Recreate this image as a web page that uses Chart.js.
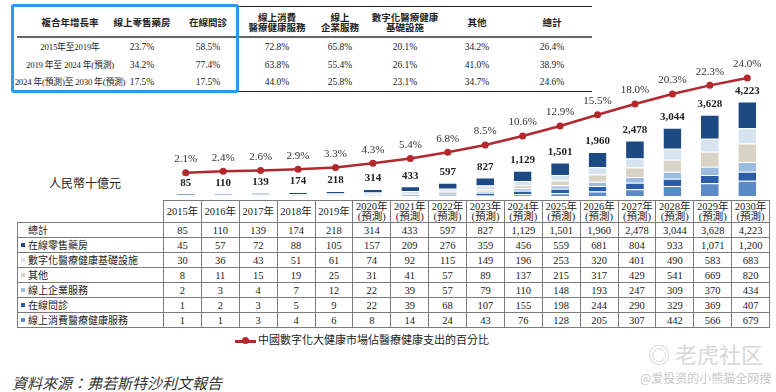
<!DOCTYPE html>
<html>
<head>
<meta charset="utf-8">
<script src="https://cdn.jsdelivr.net/npm/chart.js@4.4.1/dist/chart.umd.min.js"></script>
<style>
  body { margin:0; width:776px; height:392px; background:#fff; position:relative; overflow:hidden;
         font-family:"Liberation Serif","Noto Sans CJK TC",serif; color:#222; }
  .cell { position:absolute; transform:translate(-50%,-50%); white-space:nowrap; font-size:9.5px; text-align:center; line-height:10px; }
  .cell.head { font-weight:bold; }
  .cell.period { font-size:8.8px; letter-spacing:-0.2px; }
  .hline { position:absolute; height:0; }
  #blueBox { position:absolute; left:11px; top:4px; width:222px; height:83px; border:3px solid #2a9af0; border-radius:3px; }
  #unit { position:absolute; left:85px; top:183px; transform:translate(-50%,-50%); font-size:12px; white-space:nowrap; }
  #chartBox { position:absolute; left:163px; top:55px; }
  #dataTable { position:absolute; left:17px; top:200px; border-collapse:collapse; table-layout:fixed; width:753px; font-size:10.5px; }
  #dataTable td { border:1px solid #7c7c7c; height:14px; padding:0; text-align:center; line-height:13px; white-space:nowrap; }
  #dataTable tr.head td { height:21px; line-height:9.5px; }
  #dataTable td.blank { border:none; border-bottom:1px solid #7c7c7c; }
  #dataTable td.name { text-align:left; padding-left:3px; font-size:10px; }
  .sq { display:inline-block; width:4px; height:4px; margin-right:3px; vertical-align:middle; position:relative; top:-1px; }
  #legend { position:absolute; left:235px; top:331px; font-size:11px; font-family:"Noto Sans CJK TC",sans-serif; white-space:nowrap; }
  #legend .ln { display:inline-block; width:21px; height:3px; background:#b3282d; vertical-align:middle; position:relative; margin-right:2px; }
  #legend .ln i { position:absolute; left:7px; top:-2.5px; width:7px; height:7px; border-radius:50%; background:#b3282d; }
  #source { position:absolute; left:12px; top:372px; font-size:15px; font-style:italic; color:#333; font-family:"Noto Sans CJK TC",sans-serif; }
  #wm1 { position:absolute; left:648px; top:337px; font-size:22px; color:#d8d8d8; font-family:"Noto Sans CJK SC",sans-serif; }
  #wm2 { position:absolute; left:640px; top:369px; font-size:12px; color:#c8c8c8; font-family:"Noto Sans CJK SC",sans-serif; }
</style>
</head>
<body>
<div id="topTable"></div>
<div id="blueBox"></div>
<div id="unit">人民幣十億元</div>
<div id="chartBox"><canvas id="marketChart" width="607" height="145"></canvas></div>
<table id="dataTable"></table>
<div id="legend"><span class="ln"><i></i></span>中國數字化大健康市場佔醫療健康支出的百分比</div>
<div id="source">資料來源：弗若斯特沙利文報告</div>
<div id="wm1">◎ 老虎社区</div>
<div id="wm2">@爱投资的小熊猫全网搜</div>

<script>
// years and series (RMB bn)
let years = ['2015','2016','2017','2018','2019','2020','2021','2022','2023','2024','2025','2026','2027','2028','2029','2030'];
let firstForecast = 5;
let totals = [85,110,139,174,218,314,433,597,827,1129,1501,1960,2478,3044,3628,4223];
let retailPharmacy = [45,57,72,88,105,157,209,276,359,456,559,681,804,933,1071,1200];
let infrastructure = [30,36,43,51,61,74,92,115,149,196,253,320,401,490,583,683];
let others = [8,11,15,19,25,31,41,57,89,137,215,317,429,541,669,820];
let enterprise = [2,3,4,7,12,22,39,57,79,110,148,193,247,309,370,434];
let consultation = [1,2,3,5,9,22,39,68,107,155,198,244,290,329,369,407];
let consumerHealth = [1,1,3,4,6,8,14,24,43,76,128,205,307,442,566,679];
let sharePct = [2.1,2.4,2.6,2.9,3.3,4.3,5.4,6.8,8.5,10.6,12.9,15.5,18.0,20.3,22.3,24.0];

// CAGR table
let cagrTitle = '複合年增長率';
let cagrPeriods = ['2015年至2019年','2019 年至 2024 年(預測)','2024 年(預測)至 2030 年(預測)'];
let cagrHeaders = ['線上零售藥房','在線問診','線上消費<br>醫療健康服務','線上<br>企業服務','數字化醫療健康<br>基礎設施','其他','總計'];
let cagrRetail = ['23.7%','34.2%','17.5%'];
let cagrConsult = ['58.5%','77.4%','17.5%'];
let cagrConsumer = ['72.8%','63.8%','44.0%'];
let cagrEnterprise = ['65.8%','55.4%','25.8%'];
let cagrInfra = ['20.1%','26.1%','23.1%'];
let cagrOthers = ['34.2%','41.0%','34.7%'];
let cagrTotal = ['26.4%','38.9%','24.6%'];

let seriesNames = ['在線零售藥房','數字化醫療健康基礎設施','其他','線上企業服務','在線問診','線上消費醫療健康服務'];
let seriesData = [retailPharmacy, infrastructure, others, enterprise, consultation, consumerHealth];
let seriesColors = ['#1d4a82','#d6e4f2','#d8d3c4','#9bbcde','#2b5ca6','#5b8bc6'];
let lineName = '中國數字化大健康市場佔醫療健康支出的百分比';
let lineColor = '#b3282d';

function buildTopTable() {
  let box = document.getElementById('topTable');
  let colX = [70,142,208,277,340,405,477,552];
  let rowY = [47,65,82];
  let cols = [cagrPeriods, cagrRetail, cagrConsult, cagrConsumer, cagrEnterprise, cagrInfra, cagrOthers, cagrTotal];
  let html = '';
  let heads = [cagrTitle].concat(cagrHeaders);
  heads.forEach(function (h, c) {
    html += '<div class="cell head" style="left:' + colX[c] + 'px;top:23px">' + h + '</div>';
  });
  cols.forEach(function (col, c) {
    col.forEach(function (v, r) {
      let cls = c == 0 ? 'cell period' : 'cell';
      html += '<div class="' + cls + '" style="left:' + colX[c] + 'px;top:' + rowY[r] + 'px">' + v + '</div>';
    });
  });
  html += '<div class="hline" style="left:233px;top:6px;width:359px;border-top:1px solid #222"></div>';
  html += '<div class="hline" style="left:17px;top:36px;width:575px;border-top:2px solid #666"></div>';
  html += '<div class="hline" style="left:233px;top:91px;width:359px;border-top:1px solid #222"></div>';
  box.innerHTML = html;
}

function buildDataTable() {
  let table = document.getElementById('dataTable');
  let html = '<colgroup><col style="width:146px">';
  years.forEach(function () { html += '<col>'; });
  html += '</colgroup><tr class="head"><td class="blank"></td>';
  years.forEach(function (y, i) {
    html += '<td>' + y + '年' + (i >= firstForecast ? '<br>(預測)' : '') + '</td>';
  });
  html += '</tr><tr><td class="name"><span class="sq"></span>總計</td>';
  totals.forEach(function (v) { html += '<td>' + v.toLocaleString('en-US') + '</td>'; });
  html += '</tr>';
  seriesNames.forEach(function (name, s) {
    html += '<tr><td class="name"><span class="sq" style="background:' + seriesColors[s] + '"></span>' + name + '</td>';
    seriesData[s].forEach(function (v) { html += '<td>' + v.toLocaleString('en-US') + '</td>'; });
    html += '</tr>';
  });
  table.innerHTML = html;
}

let valueLabels = {
  id: 'valueLabels',
  afterDatasetsDraw: function (chart) {
    let ctx = chart.ctx;
    ctx.save();
    ctx.textAlign = 'center';
    ctx.textBaseline = 'bottom';
    ctx.fillStyle = '#222';
    ctx.font = 'bold 11px "Liberation Serif"';
    chart.getDatasetMeta(5).data.forEach(function (bar, i) {
      ctx.fillText(totals[i].toLocaleString('en-US'), bar.x, bar.y - 5);
    });
    ctx.font = '11px "Liberation Serif"';
    ctx.fillStyle = '#333';
    chart.getDatasetMeta(6).data.forEach(function (pt, i) {
      ctx.fillText(sharePct[i].toFixed(1) + '%', pt.x, pt.y - 8);
    });
    ctx.restore();
  }
};

function drawChart() {
  // bottom of stack first
  let order = [5,4,3,2,1,0];
  let datasets = order.map(function (s) {
    return {
      type: 'bar',
      label: seriesNames[s],
      data: seriesData[s],
      backgroundColor: seriesColors[s],
      borderColor: '#ffffff',
      borderWidth: { top: 1, right: 0, bottom: 0, left: 0 },
      borderSkipped: false,
      barPercentage: 0.5,
      categoryPercentage: 0.95,
      yAxisID: 'y',
      order: 2
    };
  });
  datasets.push({
    type: 'line',
    label: lineName,
    data: sharePct,
    borderColor: lineColor,
    backgroundColor: lineColor,
    borderWidth: 2.5,
    pointRadius: 3.5,
    pointBackgroundColor: lineColor,
    pointBorderWidth: 0,
    tension: 0,
    yAxisID: 'y2',
    order: 1
  });

  new Chart(document.getElementById('marketChart').getContext('2d'), {
    data: { labels: years, datasets: datasets },
    options: {
      responsive: false,
      animation: false,
      devicePixelRatio: 1,
      layout: { padding: 0 },
      plugins: { legend: { display: false }, tooltip: { enabled: false } },
      scales: {
        x: { display: false, stacked: true, offset: true },
        y: { display: false, stacked: true, min: 0, max: 6120 },
        y2: { display: false, min: -3.3, max: 28.4 }
      }
    },
    plugins: [valueLabels]
  });
}

buildTopTable();
buildDataTable();
drawChart();
</script>
</body>
</html>
